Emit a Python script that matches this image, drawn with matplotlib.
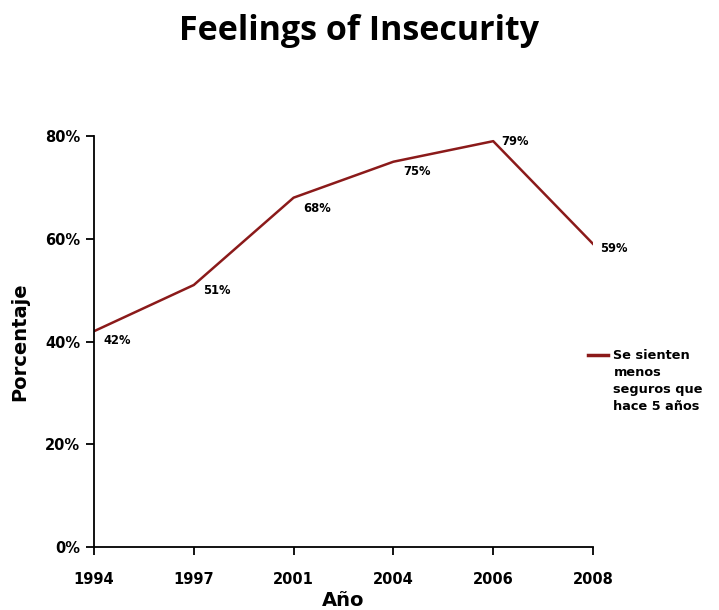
import numpy as np
import matplotlib.pyplot as plt
from matplotlib.ticker import PercentFormatter

plt.rcParams['font.family'] = ['DejaVu Sans']
plt.rcParams['font.weight'] = 'bold'

years = ['1994', '1997', '2001', '2004', '2006', '2008']
inseguros = [42, 51, 68, 75, 79, 59]
serie_label = 'Se sienten\nmenos\nseguros que\nhace 5 años'
line_color = '#8B1A1A'

# desplazamiento (pt) de cada etiqueta de valor respecto a su punto
label_offsets = [(7, -7), (7, -4), (7, -8), (7, -7), (6, 0), (5, -3)]

fig = plt.figure(figsize=(7.19, 6.10), dpi=100)
ax = fig.add_axes([0.1307, 0.1033, 0.6941, 0.6737])

x = np.arange(len(years))
ax.plot(x, inseguros, color=line_color, linewidth=1.8)

for xi, v, off in zip(x, inseguros, label_offsets):
    ax.annotate(f'{v}%', (xi, v), xytext=off, textcoords='offset points',
                fontsize=8.3, fontweight='bold', ha='left', va='center')

ax.set_xlim(0, len(years) - 1)
ax.set_ylim(0, 80)
ax.set_xticks(x)
ax.set_xticklabels(years)
ax.set_yticks([0, 20, 40, 60, 80])
ax.yaxis.set_major_formatter(PercentFormatter(decimals=0))
ax.tick_params(axis='x', direction='out', length=6, width=1.3, pad=12,
               labelsize=10.5)
ax.tick_params(axis='y', direction='out', length=6, width=1.3, pad=4,
               labelsize=10.5)

for side in ['top', 'right']:
    ax.spines[side].set_visible(False)
for side in ['left', 'bottom']:
    ax.spines[side].set_linewidth(1.3)

ax.set_xlabel('Año', fontsize=14, fontweight='bold', labelpad=3)
ax.set_ylabel('Porcentaje', fontsize=14, fontweight='bold', labelpad=11)

# leyenda: trazo a la altura de la primera línea del texto
ax.plot([0.99, 1.03], [0.468, 0.468], transform=ax.transAxes,
        color=line_color, linewidth=2.5, clip_on=False)
ax.text(1.041, 0.481, serie_label, transform=ax.transAxes, ha='left',
        va='top', fontsize=9.3, fontweight='bold', linespacing=1.4)

fig.text(0.5, 0.95, 'Feelings of Insecurity', ha='center', va='center',
         fontsize=24.5, fontweight='bold', family=['Open Sans', 'DejaVu Sans'])

fig.savefig('out.png', dpi=100)
